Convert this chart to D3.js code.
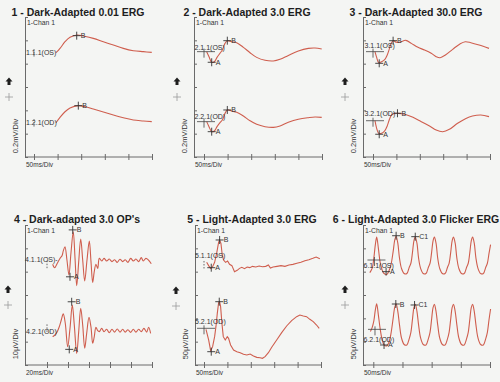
<!DOCTYPE html>
<html>
<head>
<meta charset="utf-8">
<script src="https://cdn.jsdelivr.net/npm/d3@7"></script>
<style>
  body { margin: 0; background: #f4f5f3; }
  svg { display: block; font-family: "Liberation Sans", Arial, sans-serif; }
</style>
</head>
<body>
<svg id="chart" width="500" height="382"></svg>
<script>
// ---- data ----
const titles = ["1 - Dark-Adapted 0.01 ERG", "2 - Dark-Adapted 3.0 ERG", "3 - Dark-Adapted 30.0 ERG",
  "4 - Dark-adapted 3.0 OP's", "5 - Light-Adapted 3.0 ERG", "6 - Light-Adapted 3.0 Flicker ERG"];
const traceLabels = [["1.1.1(OS)", "1.2.1(OD)"], ["2.1.1(OS)", "2.2.1(OD)"], ["3.1.1(OS)", "3.2.1(OD)"],
  ["4.1.1(OS)-", "4.2.1(OD)"], ["5.1.1(OS)", "5.2.1(OD)"], ["6.1.1(OS)", "6.2.1(OD)"]];
const xUnits = ["50ms/Div", "50ms/Div", "50ms/Div", "20ms/Div", "50ms/Div", "50ms/Div"];
const yUnits = ["0.2mV/Div", "0.2mV/Div", "0.2mV/Div", "10µV/Div", "50µV/Div", "50µV/Div"];

const ticks50 = [0, 50, 100, 150, 200, 250];
const ticks20 = [0, 20, 40, 60, 80, 100];
const ticksFlicker = [0, 50, 100, 150, 200];
const ticksMv = [0, 0.2, 0.4, 0.6, 0.8, 1.0, 1.2];
const ticksUv10 = [0, 10, 20, 30, 40, 50, 60];
const ticksUv50 = [0, 50, 100, 150, 200, 250, 300];

// traces: [ms, value]
const p1OS = [[46.6,0.894],[55.1,0.931],[65.7,0.988],[76.3,1.026],[91.8,1.046],[104.5,1.037],[125.7,1.017],[146.9,0.988],[168.1,0.960],[189.3,0.931],[210.5,0.911],[231.7,0.903],[249.5,0.897]];
const p1OD = [[46.6,0.294],[55.1,0.340],[65.7,0.388],[76.3,0.420],[93.9,0.440],[108.1,0.431],[125.7,0.411],[146.9,0.386],[168.1,0.360],[189.3,0.337],[210.5,0.317],[231.7,0.309],[249.5,0.303]];

const p2OS = [[5.7,0.903],[10.6,0.860],[16.3,0.812],[21.9,0.817],[27.6,0.854],[33.9,0.889],[38.8,0.917],[44.5,0.974],[49.4,0.997],[58.7,0.988],[69.3,0.980],[83.4,0.940],[97.5,0.894],[111.6,0.854],[129.3,0.829],[146.9,0.823],[161.1,0.837],[178.7,0.871],[199.9,0.909],[221.1,0.931],[235.2,0.934],[249.4,0.926]];
const p2OD = [[5.7,0.303],[10.6,0.260],[16.3,0.217],[21.9,0.223],[27.6,0.260],[33.9,0.294],[38.8,0.317],[44.5,0.374],[49.4,0.403],[58.7,0.394],[69.3,0.383],[83.4,0.351],[97.5,0.311],[111.6,0.280],[129.3,0.260],[146.9,0.254],[161.1,0.266],[178.7,0.297],[199.9,0.323],[221.1,0.337],[235.2,0.343],[249.4,0.340]];

const p3OS = [[4.2,0.903],[7.8,0.854],[12.0,0.809],[18.4,0.817],[25.4,0.837],[30.4,0.874],[34.6,0.923],[38.8,0.974],[43.1,0.997],[50.2,0.983],[58.7,0.986],[69.9,1.000],[82.0,0.974],[96.1,0.940],[110.2,0.917],[124.4,0.889],[135.0,0.860],[143.4,0.851],[154.7,0.874],[170.2,0.923],[185.8,0.969],[197.1,0.988],[209.1,0.980],[226.7,0.960],[247.9,0.931]];
const p3OD = [[4.2,0.311],[7.8,0.246],[12.0,0.203],[18.4,0.203],[25.4,0.226],[30.4,0.266],[34.6,0.317],[39.6,0.360],[46.6,0.374],[53.7,0.374],[67.8,0.366],[85.4,0.340],[103.2,0.303],[120.8,0.266],[135.0,0.231],[149.0,0.217],[163.2,0.237],[180.8,0.289],[198.6,0.331],[212.5,0.351],[230.3,0.360],[247.9,0.346]];

const p4OS = [[5.4,43.2],[7.3,41.7],[9.8,43.6],[12.4,45.7],[14.3,46.8],[15.5,48.9],[17.1,50.7],[19.0,45.0],[20.9,38.6],[22.8,47.9],[25.0,57.1],[26.7,45.7],[28.3,34.0],[30.2,44.3],[32.1,54.0],[34.0,45.0],[35.9,36.0],[38.1,45.0],[40.3,53.1],[41.9,44.3],[43.5,35.4],[45.0,40.0],[46.6,43.2],[48.3,41.4],[49.8,45.7],[52.1,44.6],[54.3,45.7],[56.8,44.6],[59.3,45.4],[61.9,44.3],[64.4,45.1],[66.9,44.0],[69.5,45.3],[72.1,44.3],[74.5,45.1],[77.1,44.0],[79.7,45.7],[82.2,44.6],[84.7,45.4],[87.3,44.3],[89.8,46.0],[91.7,44.6],[94.2,45.7],[96.8,44.9],[99.3,43.4]];
const p4OD = [[5.4,12.1],[7.6,12.9],[9.8,14.3],[11.7,16.4],[13.6,19.3],[15.5,21.9],[17.4,17.9],[19.7,7.8],[21.9,15.7],[24.1,25.7],[26.0,17.1],[28.3,5.0],[30.2,14.3],[32.1,24.3],[34.0,17.1],[35.9,7.2],[37.8,13.6],[40.0,20.4],[41.9,16.2],[43.5,9.3],[45.0,12.1],[46.6,16.2],[48.3,14.7],[49.8,14.3],[52.1,15.7],[54.3,14.3],[56.8,15.3],[59.3,13.8],[61.9,15.3],[64.4,14.1],[66.9,15.4],[69.5,14.1],[72.1,15.3],[74.5,14.1],[77.1,15.1],[79.7,14.0],[82.2,15.3],[84.7,14.1],[87.3,15.3],[89.8,14.3],[92.3,15.7],[94.9,14.1],[96.8,16.2],[98.7,13.6]];

const p5OS = [[5.7,220.0],[9.9,212.9],[14.2,207.1],[18.4,210.7],[22.7,220.0],[27.0,239.3],[31.2,262.9],[33.3,267.9],[36.2,260.7],[39.0,235.7],[41.8,225.0],[46.1,220.0],[50.4,222.9],[54.6,215.7],[59.6,212.9],[65.2,200.0],[70.9,202.9],[75.9,207.1],[80.9,209.3],[86.5,206.4],[92.2,210.0],[97.9,208.6],[103.6,211.4],[110.7,210.0],[117.8,212.1],[124.9,210.7],[131.9,211.4],[137.6,214.3],[141.9,207.9],[147.5,210.0],[156.0,211.4],[164.5,212.9],[173.0,211.4],[181.5,214.3],[190.0,215.7],[198.5,217.9],[207.1,220.0],[215.6,223.6],[224.1,225.7],[232.6,228.6],[239.7,231.4],[247.5,227.9]];
const p5OD = [[4.3,76.4],[9.9,53.6],[14.2,30.7],[18.4,39.3],[22.7,60.7],[25.5,82.1],[28.4,110.7],[31.2,133.6],[33.3,135.7],[35.5,125.0],[38.3,89.3],[41.2,60.7],[45.4,53.6],[49.7,60.7],[52.5,57.1],[56.8,42.9],[63.2,32.1],[70.2,28.6],[77.3,26.4],[84.4,22.9],[91.5,21.4],[98.6,23.6],[105.7,19.3],[112.8,16.4],[119.9,15.7],[124.9,14.3],[130.5,17.9],[137.6,26.4],[144.7,37.9],[155.3,53.6],[166.0,69.3],[176.6,83.6],[187.3,95.0],[197.9,103.6],[204.9,107.1],[212.2,105.0],[219.2,103.6],[226.2,97.9],[233.4,92.9],[240.5,85.7],[246.2,78.6]];

const p6OS = [[-6,198],[-2,207],[1,230],[3.5,258],[5.8,274],[8.7,250],[11.6,221],[15.0,204],[18.4,196],[23.0,194],[27.6,204],[30.5,216],[34.0,243],[36.8,268],[39.1,276],[42.0,261],[44.9,229],[48.3,207],[52.9,196],[57.5,196],[61.5,209],[64.4,218],[67.3,243],[69.6,266],[71.9,274],[74.8,261],[77.6,229],[81.1,207],[85.7,196],[90.3,196],[94.3,209],[97.2,218],[100.1,243],[102.4,266],[104.7,274],[107.5,261],[110.4,229],[113.8,207],[118.4,196],[123.0,196],[127.1,209],[129.9,218],[132.8,243],[135.1,266],[137.4,274],[140.3,261],[143.2,229],[146.6,207],[151.2,196],[155.8,196],[159.8,209],[162.7,218],[165.6,243],[167.9,266],[170.2,274],[173.0,261],[175.9,229],[179.4,207],[184.0,196],[188.6,196],[192.6,209],[195.5,218],[198.3,239],[201.0,258]];
const p6OD = [[-5,72],[-2,80],[1,95],[3.5,118],[5.8,131],[8.7,107],[11.6,79],[15.0,55],[18.4,43],[23.0,41],[27.6,52],[30.5,69],[34.0,100],[36.8,124],[39.1,131],[42.0,115],[44.9,86],[48.3,58],[52.9,44],[57.5,43],[61.5,56],[64.4,70],[67.3,100],[69.6,123],[71.9,130],[74.8,115],[77.6,86],[81.1,58],[85.7,44],[90.3,43],[94.3,56],[97.2,70],[100.1,100],[102.4,123],[104.7,130],[107.5,115],[110.4,86],[113.8,58],[118.4,44],[123.0,43],[127.1,56],[129.9,70],[132.8,100],[135.1,123],[137.4,130],[140.3,115],[143.2,86],[146.6,58],[151.2,44],[155.8,43],[159.8,56],[162.7,70],[165.6,100],[167.9,123],[170.2,130],[173.0,115],[175.9,86],[179.4,58],[184.0,44],[188.6,43],[192.6,56],[195.5,70],[198.3,97],[201.0,120]];

// cursor markers: [label, ms, value]; "" = baseline cross, "|" = stimulus tick
const p1Marks = [["B", 90.5, 1.04], ["B", 93.9, 0.44], ["|", 0, 0.891], ["|", 0, 0.291]];
const p2Marks = [["A", 16.3, 0.812], ["B", 49.4, 0.997], ["A", 16.3, 0.217], ["B", 49.4, 0.403], ["", 0, 0.903], ["", 0, 0.303]];
const p3Marks = [["A", 13.3, 0.803], ["B", 43.0, 0.997], ["A", 13.3, 0.195], ["B", 52.3, 0.375], ["", 0, 0.903], ["", 0, 0.311]];
const p4Marks = [["B", 24.5, 57.9], ["A", 21.9, 37.8], ["B", 23.5, 27.1], ["A", 21.2, 6.7], ["|", 0, 43.0], ["|", 0, 15.7]];
const p5Marks = [["A", 15.5, 208.5], ["B", 33.4, 267.9], ["A", 15.5, 28.5], ["B", 32.6, 135.7], ["|", 0, 214.3], ["", 0, 78.6]];
const p6Marks = [["B", 39.1, 277], ["C1", 71.9, 275], ["A", 21.9, 200], ["B", 38.6, 130.7], ["C1", 70.7, 128.6], ["A", 18.4, 42.9], ["", 2, 225], ["", 2.9, 76.4]];

// ---- layout ----
const panels = [
  { ax: 25, x0: 34, x1: 152, top: 17, bot: 157, xt: ticks50, yt: ticksMv, traces: [p1OS, p1OD], marks: p1Marks, cx: 78, ty: 16, icon: [9, 81], lab: [[26, 55], [26, 125]], curve: d3.curveCatmullRom },
  { ax: 194, x0: 204, x1: 322, top: 17, bot: 157, xt: ticks50, yt: ticksMv, traces: [p2OS, p2OD], marks: p2Marks, cx: 247, ty: 16, icon: [177, 81], lab: [[194.5, 49.5], [194.5, 119]], curve: d3.curveCatmullRom },
  { ax: 363, x0: 373, x1: 490, top: 17, bot: 157, xt: ticks50, yt: ticksMv, traces: [p3OS, p3OD], marks: p3Marks, cx: 416, ty: 16, icon: [345, 81], lab: [[364.5, 48], [364.5, 116]], curve: d3.curveCatmullRom },
  { ax: 25, x0: 47, x1: 152, top: 225, bot: 365, xt: ticks20, yt: ticksUv10, traces: [p4OS, p4OD], marks: p4Marks, cx: 77, ty: 223, icon: [8, 289], lab: [[25, 262], [26, 334]], curve: d3.curveCatmullRom },
  { ax: 195, x0: 204, x1: 321, top: 225, bot: 365, xt: ticks50, yt: ticksUv50, traces: [p5OS, p5OD], marks: p5Marks, cx: 252, ty: 223, icon: [176, 290], lab: [[195, 258], [195, 324]], curve: d3.curveLinear },
  { ax: 363, x0: 373.3, x1: 490, top: 225, bot: 365, xt: ticksFlicker, yt: ticksUv50, traces: [p6OS, p6OD], marks: p6Marks, cx: 416, ty: 223, icon: [345, 289], lab: [[363.5, 268], [363.5, 342]], curve: d3.curveCatmullRom }
];

const svg = d3.select("#chart");
svg.append("rect").attr("width", 500).attr("height", 382).attr("fill", "#f4f5f3");

panels.forEach((p, i) => {
  const g = svg.append("g");
  const x = d3.scaleLinear().domain([p.xt[0], p.xt[p.xt.length - 1]]).range([p.x0, p.x1]);
  const y = d3.scaleLinear().domain([p.yt[0], p.yt[p.yt.length - 1]]).range([p.bot, p.top]);

  // title
  g.append("text")
    .attr("x", p.cx).attr("y", p.ty)
    .attr("text-anchor", "middle")
    .attr("font-size", 10.5).attr("font-weight", "bold").attr("fill", "#1e1e1e")
    .text(titles[i]);

  // y axis
  g.append("g")
    .attr("transform", `translate(${p.ax},0)`)
    .call(d3.axisLeft(y).tickValues(p.yt).tickSize(-3).tickSizeOuter(0).tickFormat(""))
    .call(a => a.selectAll("line, path").attr("stroke", "#6a6a6a"));

  // x axis
  g.append("g")
    .attr("transform", `translate(0,${p.bot})`)
    .call(d3.axisBottom(x).tickValues(p.xt).tickSize(3).tickFormat(""))
    .call(a => a.select(".domain").remove())
    .call(a => a.selectAll(".tick line").attr("y1", -3).attr("y2", 3).attr("stroke", "#6a6a6a"));
  g.append("line")
    .attr("x1", p.ax).attr("x2", p.x1).attr("y1", p.bot).attr("y2", p.bot)
    .attr("stroke", "#6a6a6a");

  // small texts
  g.append("text").attr("x", p.ax + 2).attr("y", p.top + 8)
    .attr("font-size", 6.8).attr("fill", "#333").text("1-Chan 1");
  g.append("text").attr("x", p.ax + 1).attr("y", p.bot + 10)
    .attr("font-size", 6.5).attr("fill", "#333").text(xUnits[i]);
  g.append("text")
    .attr("transform", `translate(${p.ax - 7},${p.bot - 21}) rotate(-90)`)
    .attr("text-anchor", "middle")
    .attr("font-size", 7.5).attr("fill", "#333").text(yUnits[i]);

  // arrow icon and plus
  const [ix, iy] = p.icon;
  g.append("path")
    .attr("d", `M${ix - 3.5},${iy + 0.5} L${ix},${iy - 3.5} L${ix + 3.5},${iy + 0.5} L${ix + 1.5},${iy + 0.5} L${ix + 1.5},${iy + 4} L${ix - 1.5},${iy + 4} L${ix - 1.5},${iy + 0.5} Z`)
    .attr("fill", "#1e1e1e");
  g.append("path")
    .attr("d", `M${ix - 4},${iy + 16} H${ix + 4} M${ix},${iy + 12} V${iy + 20}`)
    .attr("stroke", "#999").attr("stroke-width", 0.8);

  // traces
  const line = d3.line().x(d => x(d[0])).y(d => y(d[1])).curve(p.curve);
  p.traces.forEach(tr => {
    g.append("path")
      .datum(tr)
      .attr("fill", "none")
      .attr("stroke", "#cf5e4e")
      .attr("stroke-width", 1.1)
      .attr("d", line);
  });

  // trace labels
  traceLabels[i].forEach((t, k) => {
    g.append("text").attr("x", p.lab[k][0]).attr("y", p.lab[k][1])
      .attr("font-size", 7).attr("fill", "#333").text(t);
  });

  // markers
  p.marks.forEach(m => {
    const mx = x(m[1]), my = y(m[2]);
    if (m[0] === "|") {
      g.append("line").attr("x1", mx).attr("x2", mx).attr("y1", my - 4).attr("y2", my + 4)
        .attr("stroke", "#444").attr("stroke-width", 0.8).attr("stroke-dasharray", "1.5,1.5");
    } else if (m[0] === "") {
      g.append("path")
        .attr("d", `M${mx - 7},${my} H${mx + 11} M${mx},${my - 3} V${my + 6}`)
        .attr("stroke", "#444").attr("stroke-width", 0.8);
    } else {
      g.append("path")
        .attr("d", `M${mx - 4},${my} H${mx + 4} M${mx},${my - 4} V${my + 4}`)
        .attr("stroke", "#333").attr("stroke-width", 0.9);
      g.append("text").attr("x", mx + 4).attr("y", my + 2.5)
        .attr("font-size", 7).attr("fill", "#333").text(m[0]);
    }
  });
});
</script>
</body>
</html>
